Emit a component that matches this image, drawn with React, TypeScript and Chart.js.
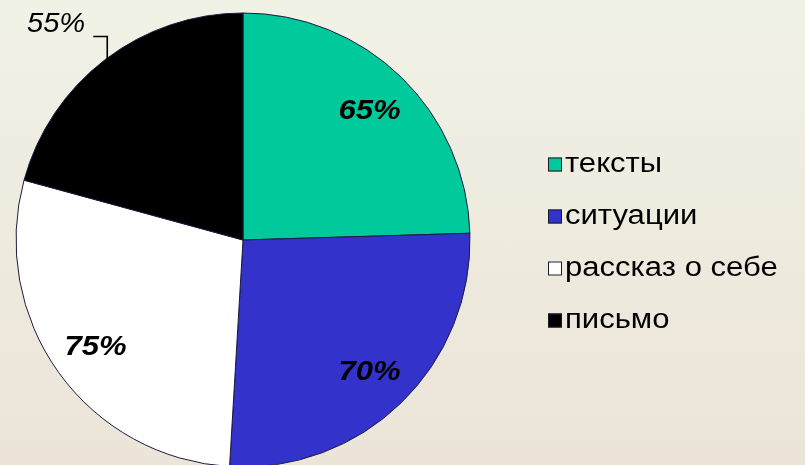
import React, { useEffect, useRef } from "react";
import { Chart, registerables } from "chart.js";

Chart.register(...registerables);

const labels = ["тексты", "ситуации", "рассказ о себе", "письмо"];
const values = [65, 70, 75, 55];
const valueLabels = ["65%", "70%", "75%", "55%"];
const colors = ["#00c99b", "#3333cc", "#ffffff", "#000000"];

const FONT = "'Liberation Sans', Arial, sans-serif";

const overlayPlugin = {
  id: "overlay",
  afterDraw(chart: any) {
    const ctx = chart.ctx;
    const meta = chart.getDatasetMeta(0);
    ctx.save();
    meta.data.forEach((arc: any, i: number) => {
      const { x, y, startAngle, endAngle, outerRadius } = arc.getProps(
        ["x", "y", "startAngle", "endAngle", "outerRadius"],
        true
      );
      const mid = (startAngle + endAngle) / 2;
      if (i < 3) {
        const r = outerRadius * 0.8;
        const px = x + Math.cos(mid) * r;
        const py = y + Math.sin(mid) * r;
        ctx.font = "italic bold 27px " + FONT;
        ctx.fillStyle = "#000";
        ctx.textAlign = "center";
        ctx.textBaseline = "middle";
        ctx.save();
        ctx.translate(px, py);
        ctx.scale(1.15, 1);
        ctx.fillText(valueLabels[i], 0, 2);
        ctx.restore();
      } else {
        const ex = x + Math.cos(mid) * outerRadius;
        const ey = y + Math.sin(mid) * outerRadius;
        ctx.strokeStyle = "#000";
        ctx.lineWidth = 1.6;
        ctx.beginPath();
        ctx.moveTo(ex + 2, ey + 2);
        ctx.lineTo(ex + 2, ey - 23);
        ctx.lineTo(ex - 12, ey - 23);
        ctx.stroke();
        ctx.font = "italic 28px " + FONT;
        ctx.fillStyle = "#000";
        ctx.textAlign = "right";
        ctx.textBaseline = "middle";
        ctx.save();
        ctx.translate(ex - 20, ey - 35);
        ctx.scale(1.04, 1);
        ctx.fillText(valueLabels[i], 0, 0);
        ctx.restore();
      }
    });
    // legend
    const lx = 548;
    const ly0 = 164.5;
    const gap = 52;
    labels.forEach((lab, i) => {
      const cy = ly0 + i * gap;
      ctx.fillStyle = colors[i];
      ctx.fillRect(lx, cy - 7, 14, 14);
      ctx.strokeStyle = "#1a1a2a";
      ctx.lineWidth = 1;
      ctx.strokeRect(lx + 0.5, cy - 6.5, 13, 13);
      ctx.font = "27px " + FONT;
      ctx.fillStyle = "#000";
      ctx.textAlign = "left";
      ctx.textBaseline = "middle";
      ctx.save();
      ctx.translate(lx + 17, cy);
      ctx.scale(1.15, 1);
      ctx.fillText(lab, 0, 0);
      ctx.restore();
    });
    ctx.restore();
  },
};

export default function App() {
  const ref = useRef<HTMLCanvasElement | null>(null);
  useEffect(() => {
    if (!ref.current) return;
    const chart = new Chart(ref.current, {
      type: "pie",
      data: {
        labels,
        datasets: [
          {
            data: values,
            backgroundColor: colors,
            borderColor: "#1a1a40",
            borderWidth: 1,
          },
        ],
      },
      options: {
        animation: false,
        responsive: false,
        radius: 227,
        layout: { padding: { left: 0, right: 319, top: 0, bottom: 0 } },
        plugins: {
          legend: { display: false },
          tooltip: { enabled: false },
        },
      } as any,
      plugins: [overlayPlugin],
    });
    return () => chart.destroy();
  }, []);
  return (
    <div
      style={{
        position: "fixed",
        left: 0,
        top: 0,
        width: 805,
        height: 465,
        overflow: "hidden",
        background: "linear-gradient(180deg, #f1f2e6 0%, #eeebdf 45%, #ece4d8 100%)",
      }}
    >
      <canvas ref={ref} width={805} height={480} style={{ display: "block" }} />
    </div>
  );
}
